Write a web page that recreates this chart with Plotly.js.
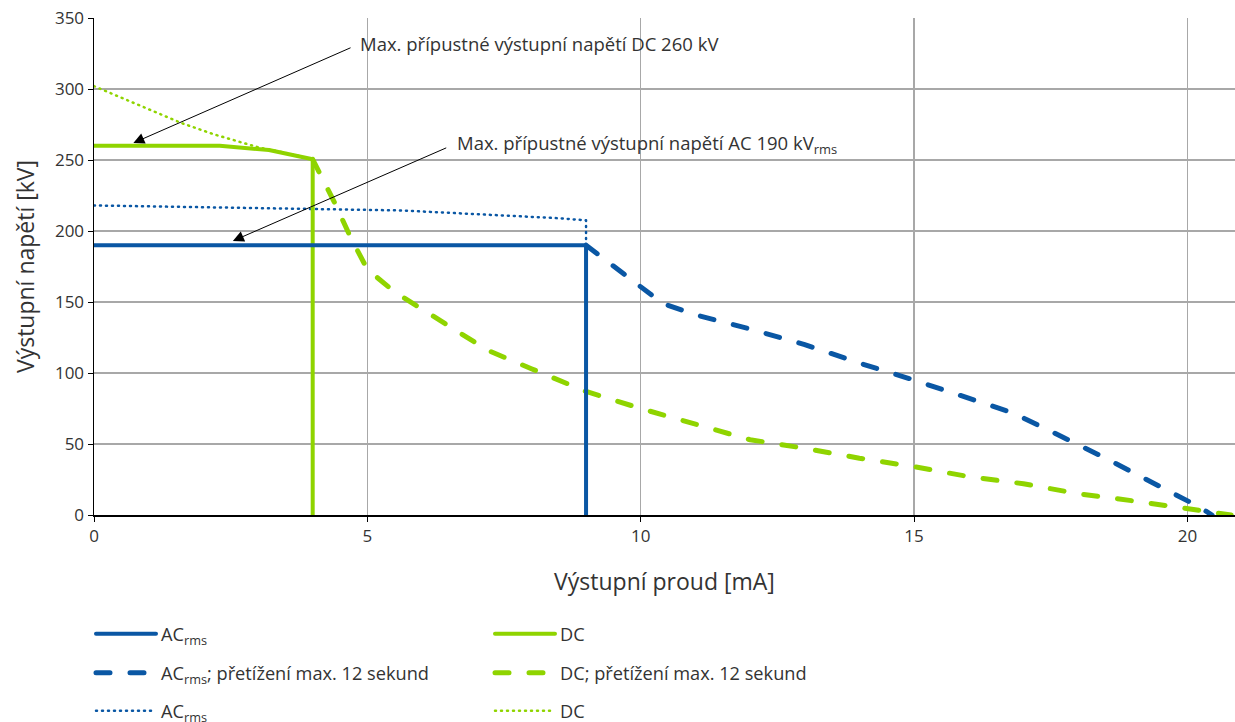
<!DOCTYPE html>
<html><head><meta charset="utf-8">
<script src="https://cdn.plot.ly/plotly-3.0.1.min.js"></script>
<style>body{margin:0;background:#fff} .js-line{stroke-linecap:round;stroke-linejoin:round}</style>
</head><body><div id="chart" style="width:1235px;height:722px"></div>
<script>
// AC rms (solid)
const acX = [0, 9, 9];
const acY = [190, 190, 0];
// AC rms overload (dashed)
const acOvX = [9, 10, 10.4, 11, 12, 13, 14, 15, 16, 16.8, 17.5, 18.5, 19.5, 20.2, 20.45];
const acOvY = [190, 160, 149, 141, 131, 120, 107, 95, 82, 72, 59, 40, 20, 6, 0];
// AC rms (dotted)
const acDotX = [0, 2, 4, 5.6, 7, 8.5, 9, 9];
const acDotY = [218, 217, 215.5, 214.5, 212, 209, 207.5, 190];
// DC (solid)
const dcX = [0, 2.3, 3.2, 4, 4];
const dcY = [260, 260, 257, 250.5, 0];
// DC overload (dashed)
const dcOvX = [4, 4.4, 4.7, 5, 5.5, 6, 6.7, 7.2, 8, 8.5, 9, 10, 11, 12, 13, 14, 15, 16, 17, 18, 19, 20, 20.8];
const dcOvY = [250.5, 220, 195, 173, 157, 145, 128, 116, 103, 95, 87, 75, 64, 53, 47, 40, 34, 27, 22, 15, 10, 4, 0];
// DC (dotted)
const dcDotX = [0, 1, 1.6, 2.2, 3, 3.5, 4];
const dcDotY = [302, 286, 276, 268, 259, 255, 250.5];

const xTicks = [0, 5, 10, 15, 20];
const yTicks = [0, 50, 100, 150, 200, 250, 300, 350];

const BLUE = '#0a57a4';
const GREEN = '#8fd400';
const txt = '#333333';
const F = 'Open Sans, Liberation Sans, sans-serif';

const traces = [
  {x: acDotX, y: acDotY, name: 'AC<sub>rms</sub>', legend: 'legend3', legendrank: 1, mode: 'lines',
   line: {color: BLUE, width: 2.5, dash: '1px,5px'}},
  {x: dcDotX, y: dcDotY, name: 'DC', legend: 'legend3', legendrank: 2, mode: 'lines',
   line: {color: GREEN, width: 2.5, dash: '1px,5px'}},
  {x: acOvX, y: acOvY, name: 'AC<sub>rms</sub>; přetížení max. 12 sekund', legend: 'legend2', legendrank: 1, mode: 'lines',
   line: {color: BLUE, width: 5, dash: '14px,20px'}},
  {x: dcOvX, y: dcOvY, name: 'DC; přetížení max. 12 sekund', legend: 'legend2', legendrank: 2, mode: 'lines',
   line: {color: GREEN, width: 5, dash: '14px,20px'}},
  {x: dcX, y: dcY, name: 'DC', legend: 'legend', legendrank: 2, mode: 'lines',
   line: {color: GREEN, width: 4}},
  {x: acX, y: acY, name: 'AC<sub>rms</sub>', legend: 'legend', legendrank: 1, mode: 'lines',
   line: {color: BLUE, width: 4}}
];

const legBase = (y) => ({
  orientation: 'h', x: 91 / 1235, xref: 'container', xanchor: 'left',
  y: y, yanchor: 'middle', yref: 'container',
  entrywidth: 324, entrywidthmode: 'pixels', itemwidth: 60,
  font: {family: F, size: 18.2, color: txt}, bgcolor: 'rgba(0,0,0,0)'
});

const layout = {
  width: 1235, height: 722,
  margin: {l: 94, r: 0, t: 18, b: 207},
  paper_bgcolor: '#fff', plot_bgcolor: '#fff',
  font: {family: F, color: txt},
  showlegend: true,
  xaxis: {
    range: [0, 20.87], tickvals: xTicks, ticktext: xTicks.map(String),
    showgrid: true, gridcolor: '#a8a8a8', gridwidth: 1.2,
    showline: true, linecolor: '#000', linewidth: 1.5,
    ticks: 'outside', ticklen: 5, tickcolor: '#000', zeroline: false,
    tickfont: {family: F, size: 17, color: txt},
    title: {text: 'Výstupní proud [mA]', font: {family: F, size: 23, color: txt}, standoff: 28}
  },
  yaxis: {
    range: [0, 350], tickvals: yTicks, ticktext: yTicks.map(String),
    showgrid: true, gridcolor: '#a8a8a8', gridwidth: 1.2,
    showline: true, linecolor: '#000', linewidth: 1.5,
    ticks: 'outside', ticklen: 5, tickcolor: '#000', zeroline: false,
    tickfont: {family: F, size: 17, color: txt},
    title: {text: 'Výstupní napětí [kV]', font: {family: F, size: 23, color: txt}, standoff: 14}
  },
  legend: legBase(1 - 634 / 722),
  legend2: legBase(1 - 673 / 722),
  legend3: legBase(1 - 711 / 722),
  annotations: [
    {x: 0.72, y: 262, ax: 4.72, ay: 329.5, xref: 'x', yref: 'y', axref: 'x', ayref: 'y',
     text: '', showarrow: true, arrowhead: 2, arrowsize: 2.2, arrowwidth: 1, arrowcolor: '#000', standoff: 0},
    {x: 2.54, y: 193, ax: 6.47, ay: 259, xref: 'x', yref: 'y', axref: 'x', ayref: 'y',
     text: '', showarrow: true, arrowhead: 2, arrowsize: 2.2, arrowwidth: 1, arrowcolor: '#000', standoff: 0},
    {x: 4.83, y: 332, xref: 'x', yref: 'y', xanchor: 'left', yanchor: 'middle', showarrow: false,
     text: 'Max. přípustné výstupní napětí DC 260 kV', font: {family: F, size: 18.5, color: txt}},
    {x: 6.6, y: 261.5, xref: 'x', yref: 'y', xanchor: 'left', yanchor: 'middle', showarrow: false,
     text: 'Max. přípustné výstupní napětí AC 190 kV<sub>rms</sub>', font: {family: F, size: 18.5, color: txt}}
  ]
};

Plotly.newPlot('chart', traces, layout, {displayModeBar: false, staticPlot: true});
</script></body></html>
